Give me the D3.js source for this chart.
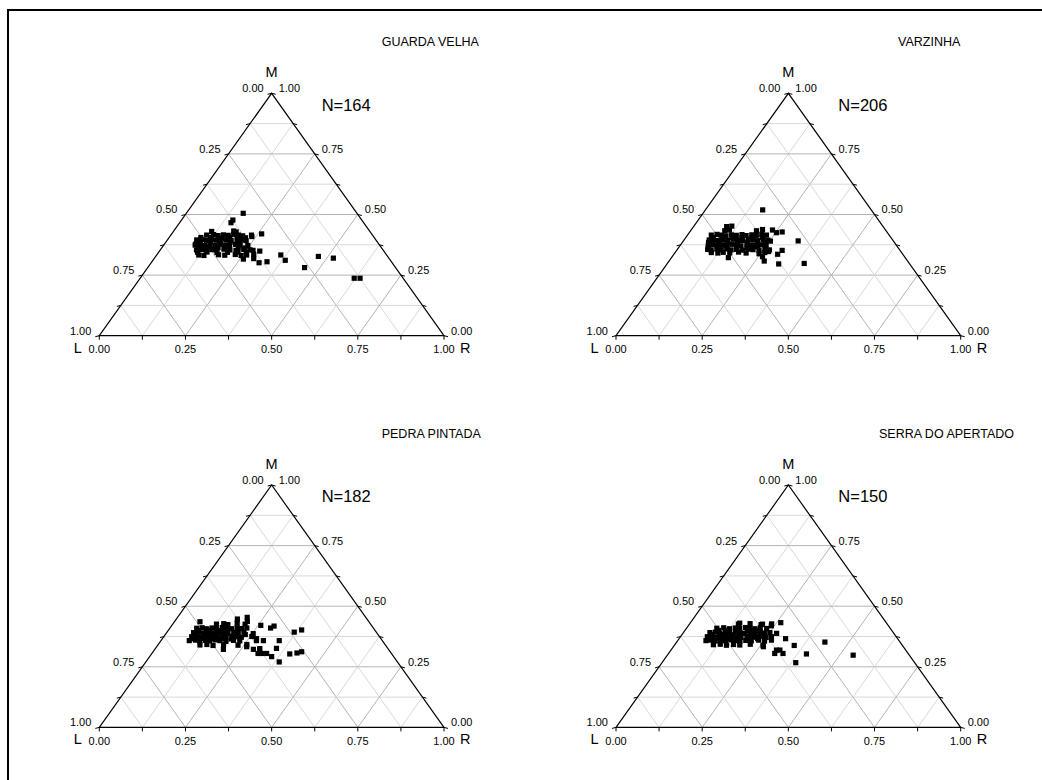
<!DOCTYPE html>
<html>
<head>
<meta charset="utf-8">
<script src="https://cdn.jsdelivr.net/npm/d3@7"></script>
<style>
body { margin: 0; background: #fff; }
text { font-family: "Liberation Sans", Arial, sans-serif; fill: #000; }
</style>
</head>
<body>
<div id="chart"></div>
<script>
var titles = ["GUARDA VELHA", "VARZINHA", "PEDRA PINTADA", "SERRA DO APERTADO"];
var counts = [164, 206, 182, 150];
var tickValues = [0, 0.25, 0.5, 0.75, 1];
var tickSteps = [0, 0.125, 0.25, 0.375, 0.5, 0.625, 0.75, 0.875, 1];
var gridSteps = [0.125, 0.25, 0.375, 0.5, 0.625, 0.75, 0.875];

// each point is [R, M]  (L = 1 - R - M)
var guardaVelha = [
  [.111,.43],[.174,.432],[.183,.428],
  [.104,.415],[.123,.417],[.138,.413],[.152,.416],[.167,.414],[.181,.418],[.196,.415],[.210,.412],[.234,.415],
  [.092,.405],[.12,.406],[.148,.404],[.176,.405],[.205,.406],[.222,.404],
  [.085,.395],[.099,.397],[.114,.393],[.128,.396],[.143,.394],[.157,.398],[.172,.395],[.186,.393],[.201,.397],[.215,.395],[.230,.392],
  [.100,.384],[.129,.386],[.158,.383],[.187,.385],[.216,.384],
  [.091,.374],[.105,.376],[.120,.372],[.134,.375],[.149,.373],[.163,.377],[.178,.374],[.192,.371],[.207,.376],[.221,.374],[.245,.372],
  [.105,.364],[.134,.366],[.163,.363],[.192,.365],[.221,.364],[.241,.362],
  [.105,.354],[.120,.356],[.134,.352],[.149,.355],[.163,.353],[.183,.357],[.202,.354],[.221,.351],[.241,.356],[.260,.354],[.270,.352],
  [.113,.344],[.14,.345],[.17,.343],[.2,.344],[.23,.345],[.255,.343],
  [.122,.333],[.138,.331],[.179,.334],[.198,.332],[.227,.335],[.246,.331],[.261,.333],[.280,.336],
  [.260,.316],[.289,.318],
  [.165,.505],[.149,.477],[.149,.466],[.261,.42],[.238,.409],[.291,.349],[.334,.305],[.313,.301],
  [.360,.333],[.384,.311],[.455,.281],[.472,.327],[.519,.320],[.621,.237],[.638,.237],[.204,.409],[.091,.378]
];

var varzinha = [
  [.096,.45],[.110,.452],
  [.099,.433],[.111,.436],[.191,.433],[.206,.438],
  [.069,.415],[.084,.418],[.098,.415],[.113,.412],[.127,.416],[.142,.414],[.157,.417],[.171,.413],[.186,.416],[.200,.414],[.214,.418],[.229,.415],
  [.078,.405],[.106,.404],[.135,.406],[.163,.405],[.192,.404],[.221,.406],
  [.073,.395],[.084,.397],[.099,.393],[.113,.396],[.128,.394],[.142,.398],[.157,.395],[.171,.393],[.186,.397],[.200,.395],[.215,.392],[.229,.396],[.244,.394],[.253,.39],
  [.076,.385],[.104,.386],[.131,.384],[.160,.385],[.188,.386],[.218,.384],[.241,.385],
  [.081,.374],[.093,.376],[.107,.372],[.120,.375],[.134,.373],[.148,.377],[.163,.374],[.177,.371],[.192,.376],[.206,.374],[.221,.372],[.235,.375],[.250,.371],
  [.085,.365],[.112,.366],[.140,.364],[.168,.365],[.198,.364],[.228,.366],
  [.088,.356],[.099,.354],[.114,.357],[.128,.355],[.143,.358],[.157,.354],[.172,.356],[.191,.353],[.206,.357],[.220,.355],[.239,.352],[.254,.356],[.268,.354],
  [.105,.343],[.125,.341],[.139,.344],[.159,.342],[.183,.345],[.207,.341],[.246,.338],[.260,.343],
  [.166,.519],[.333,.391],[.397,.298],[.324,.296],[.301,.336],[.306,.352],[.236,.436],[.253,.425],
  [.268,.428],[.276,.308],[.262,.326],[.165,.322],[.269,.347]
];

var pedraPintada = [
  [.127,.426],[.147,.428],[.161,.424],[.185,.43],[.210,.426],
  [.078,.409],[.093,.411],[.107,.407],[.122,.41],[.136,.408],[.151,.412],[.165,.409],[.180,.407],[.194,.411],[.209,.408],[.223,.41],
  [.085,.40],[.115,.401],[.143,.399],[.172,.40],[.201,.401],
  [.078,.391],[.092,.393],[.107,.389],[.121,.392],[.136,.39],[.150,.394],[.165,.391],[.179,.388],[.194,.392],[.208,.39],[.223,.393],
  [.088,.383],[.117,.384],[.146,.382],[.175,.383],[.204,.384],[.232,.383],
  [.081,.374],[.095,.376],[.110,.372],[.124,.375],[.139,.373],[.153,.377],[.168,.374],[.182,.371],[.197,.376],[.211,.374],[.226,.372],[.255,.375],
  [.09,.366],[.12,.367],[.148,.365],[.176,.366],[.2,.365],
  [.082,.358],[.099,.36],[.113,.356],[.128,.359],[.142,.357],[.157,.361],[.171,.358],[.190,.355],[.210,.359],[.229,.357],[.277,.358],
  [.122,.34],[.141,.342],[.161,.338],[.190,.341],[.233,.339],[.257,.342],
  [.199,.322],[.286,.322],[.305,.32],
  [.074,.436],[.177,.447],[.202,.454],[.211,.437],[.258,.421],[.292,.410],[.298,.418],[.369,.393],
  [.386,.402],[.343,.358],[.351,.326],[.401,.303],[.420,.307],[.431,.312],[.387,.270],[.354,.292],
  [.333,.305],[.273,.366],[.303,.325],[.308,.305],[.297,.358],[.318,.305],[.253,.387],[.261,.333]
];

var serraApertado = [
  [.142,.426],[.175,.428],[.209,.424],[.238,.427],
  [.088,.409],[.107,.411],[.126,.407],[.141,.41],[.155,.408],[.170,.412],[.184,.409],[.199,.407],[.213,.411],[.233,.408],
  [.097,.40],[.125,.401],[.153,.399],[.181,.40],[.21,.401],
  [.077,.391],[.092,.393],[.106,.389],[.121,.392],[.135,.39],[.150,.394],[.164,.391],[.179,.388],[.193,.392],[.208,.39],[.222,.393],[.237,.389],[.251,.391],
  [.085,.383],[.113,.384],[.141,.382],[.169,.383],[.198,.384],[.226,.383],
  [.078,.374],[.090,.376],[.105,.372],[.119,.375],[.134,.373],[.148,.377],[.163,.374],[.177,.371],[.192,.376],[.206,.374],[.221,.372],[.235,.375],[.250,.371],[.264,.374],
  [.088,.366],[.116,.367],[.144,.365],[.172,.366],[.2,.365],[.228,.366],
  [.082,.358],[.095,.36],[.110,.356],[.124,.359],[.139,.357],[.153,.361],[.168,.358],[.182,.355],[.197,.359],[.214,.357],[.234,.36],[.253,.356],
  [.112,.341],[.131,.343],[.151,.339],[.170,.342],[.189,.34],[.218,.343],[.257,.339],
  [.262,.432],[.272,.388],[.309,.366],[.348,.338],[.430,.352],[.539,.298],[.401,.303],[.388,.267],
  [.332,.305],[.306,.319],[.308,.305],[.316,.319],[.261,.333],[.271,.36],[.212,.426],[.241,.419],[.144,.43]
];

var panels = [guardaVelha, varzinha, pedraPintada, serraApertado];

// layout
var width = 1042, height = 780;
var triW = 344.7, triH = 242.4;
var colX = [99.3, 616], rowY = [93.3, 485];
var titleX = [282.4, 282, 282.4, 263];
var tickLen = 4;

var svg = d3.select("#chart")
  .append("svg")
    .attr("width", width)
    .attr("height", height);

// frame (only top and left edges show)
svg.append("path")
  .attr("d", "M8,780 L8,10 L1042,10")
  .attr("fill", "none")
  .attr("stroke", "#000")
  .attr("stroke-width", 2);

var x = d3.scaleLinear().domain([0, 1]).range([0, triW]);
var y = d3.scaleLinear().domain([0, 1]).range([triH, 0]);

function pos(r, m) { return [x(r + m / 2), y(m)]; }

var line = d3.line();

panels.forEach(function(pts, i) {
  var g = svg.append("g")
    .attr("transform", "translate(" + colX[i % 2] + "," + rowY[Math.floor(i / 2)] + ")");

  // grid
  gridSteps.forEach(function(s) {
    var major = (s * 4) % 1 === 0;
    var segs = [
      [pos(0, s), pos(1 - s, s)],
      [pos(s, 0), pos(s, 1 - s)],
      [pos(1 - s, 0), pos(0, 1 - s)]
    ];
    segs.forEach(function(seg) {
      g.append("path")
        .attr("d", line(seg))
        .attr("stroke", major ? "#b4b4b4" : "#d9d9d9")
        .attr("stroke-width", 1)
        .attr("fill", "none");
    });
  });

  // triangle edges
  g.append("path")
    .attr("d", line([pos(0, 0), pos(1, 0), pos(0, 1)]) + "Z")
    .attr("fill", "none")
    .attr("stroke", "#000")
    .attr("stroke-width", 1.2);

  // ticks
  tickSteps.forEach(function(s) {
    var b = pos(s, 0), l = pos(0, 1 - s), r = pos(1 - s, s);
    [[b, [b[0], b[1] + tickLen]],
     [l, [l[0] - tickLen, l[1] + 1]],
     [r, [r[0] + tickLen, r[1] + 1]]].forEach(function(seg) {
      g.append("path")
        .attr("d", line(seg))
        .attr("stroke", "#000")
        .attr("stroke-width", 1);
    });
  });

  // tick labels
  tickValues.forEach(function(v) {
    var b = pos(v, 0), l = pos(0, 1 - v), r = pos(1 - v, v);
    g.append("text")
      .attr("x", b[0]).attr("y", b[1] + 17.5)
      .attr("text-anchor", "middle")
      .attr("font-size", 11)
      .text(v.toFixed(2));
    g.append("text")
      .attr("x", l[0] - 8).attr("y", l[1] - 1)
      .attr("text-anchor", "end")
      .attr("font-size", 11)
      .text(v.toFixed(2));
    g.append("text")
      .attr("x", r[0] + 7).attr("y", r[1] - 1)
      .attr("text-anchor", "start")
      .attr("font-size", 11)
      .text(v.toFixed(2));
  });

  // axis names
  g.append("text").attr("x", x(0) - 21.5).attr("y", triH + 17)
    .attr("text-anchor", "middle").attr("font-size", 14.5).text("L");
  g.append("text").attr("x", x(1) + 16).attr("y", triH + 17)
    .attr("text-anchor", "start").attr("font-size", 14.5).text("R");
  g.append("text").attr("x", x(0.5)).attr("y", -16)
    .attr("text-anchor", "middle").attr("font-size", 14.5).text("M");

  // sample size and site name
  g.append("text").attr("x", x(0.5) + 50).attr("y", 17.4)
    .attr("font-size", 16.5).text("N=" + counts[i]);
  g.append("text").attr("x", titleX[i]).attr("y", -47.5)
    .attr("font-size", 12.5).text(titles[i]);

  // points
  g.selectAll("rect.pt")
    .data(pts)
    .join("rect")
      .attr("class", "pt")
      .attr("x", function(d) { return x(d[0] + d[1] / 2) - 2.6; })
      .attr("y", function(d) { return y(d[1]) - 2.6; })
      .attr("width", 5.2)
      .attr("height", 5.2)
      .attr("fill", "#000");
});
</script>
</body>
</html>
